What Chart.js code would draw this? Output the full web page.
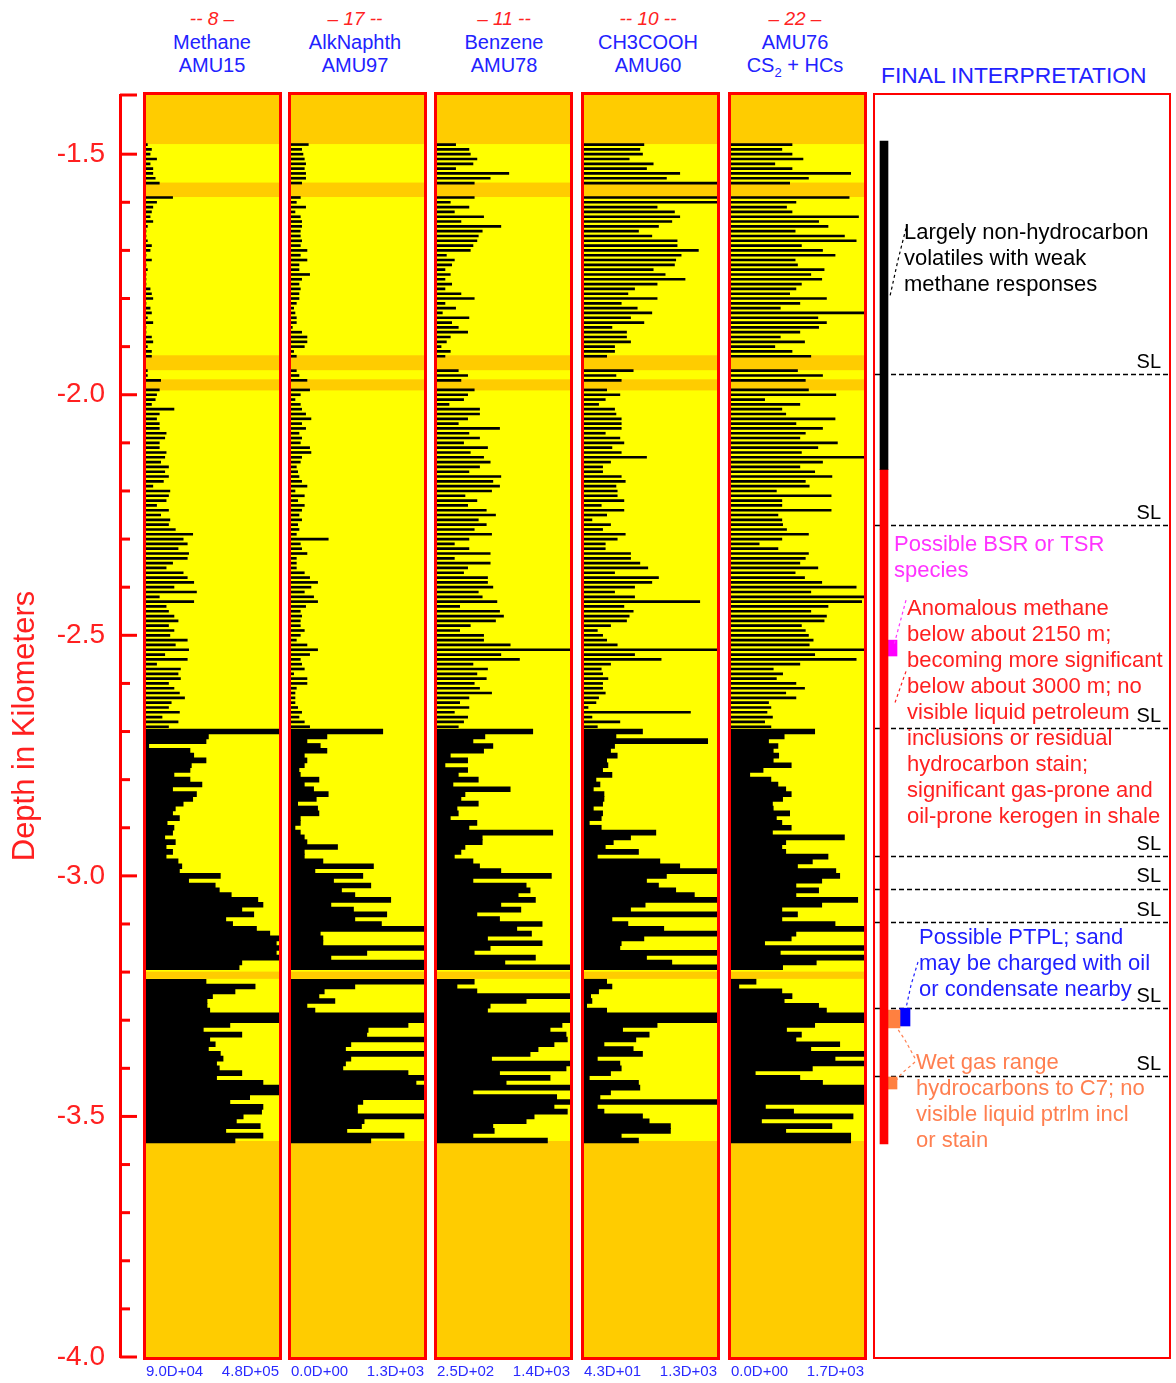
<!DOCTYPE html>
<html lang="en">
<head>
<meta charset="UTF-8">
<title>Fluid inclusion volatiles log</title>
<script src="https://cdn.jsdelivr.net/npm/chart.js"></script>
<style>
  body { margin: 0; background: #fff; width: 1176px; height: 1383px; position: relative; overflow: hidden; font-family: "Liberation Sans", Arial, sans-serif; }
  canvas { position: absolute; }
  .head { position: absolute; top: 7px; width: 170px; margin-left: -85px; text-align: center; font-size: 20px; line-height: 23.5px; color: #2222ff; }
  .head .num { color: #ff2222; font-style: italic; font-size: 19px; }
  #final { position: absolute; left: 881px; top: 62px; font-size: 22.8px; line-height: 26px; color: #2222ff; }
</style>
</head>
<body>
<div class="head" style="left:212px"><div class="num">-- 8 –</div>Methane<br>AMU15</div>
<div class="head" style="left:355px"><div class="num">– 17 --</div>AlkNaphth<br>AMU97</div>
<div class="head" style="left:504px"><div class="num">– 11 --</div>Benzene<br>AMU78</div>
<div class="head" style="left:648px"><div class="num">-- 10 --</div>CH3COOH<br>AMU60</div>
<div class="head" style="left:795px"><div class="num">– 22 –</div>AMU76<br>CS<sub style="font-size:13px">2</sub> + HCs</div>
<div id="final">FINAL INTERPRETATION</div>

<canvas id="axis" width="140" height="1342" style="left:0;top:55px"></canvas>
<canvas id="t1" width="153" height="1303" style="left:136px;top:85px"></canvas>
<canvas id="t2" width="153" height="1303" style="left:281px;top:85px"></canvas>
<canvas id="t3" width="153" height="1303" style="left:427px;top:85px"></canvas>
<canvas id="t4" width="153" height="1303" style="left:574px;top:85px"></canvas>
<canvas id="t5" width="153" height="1303" style="left:721px;top:85px"></canvas>
<canvas id="interp" width="298" height="1266" style="left:873px;top:93px"></canvas>

<script>
// samples every 10 m from 1.48 km down to 3.55 km (208 rows), null = no reading
const FIRST_DEPTH = 1.48, STEP = 0.01, SPLIT = 122;

// Methane AMU15, in thousands of counts
const methaneK = [
  94,106,102,121,102,110,110,117,129, null,null,
  168,121,110,106,102,110,94,90,90,94,106,102,90,106,90,94,90,90,90,102,106,110,90,102,106,94,110,90,90,106,110,94,106,106,
  null,null, 94,94,133, null,
  129,121,117,106,172,129,121,129,129,149,145,129,129,149,145,133,156,145,156,141,110,160,
  156,149,121,156,133,160,156,176,227,199, 211,184,215,211,168,149,199,211,230,172,
  238,129,230,149,156,172,184,156,172,160, 211,176,215,145,211,121,191,184,191,156,
  172,188,203,164,156,188,137,184,156,
  480,273,266,98,219,230,266,223,219,172, 219,254,168,238,227,199,176,168,188,152,
  172,168,145,176,149,168,149,184,195,188, 308,215,293,305,340,418,433,371,406,324,
  344,414,453,480,472,480,472,480,371,363, null,null,266,410,351,285,269,269,277,480,
  480,336,258,371,277,293,273,308,316,297, 305,371,297,433,480,480,394,336,433,429,
  375,355,425,324,433,351
];

// AlkNaphth AMU97
const alkNaphth = [
  169,104,117,130,143,130,143,143,104, null,null,
  91,52,143,39,91,104,104,91,91,104,91,156,91,156,78,78,182,104,78,91,78,78,52,26,39,52,52,13,104,156,156,130,26,52,
  null,null, 52,78,156, null,
  182,91,39,91,104,143,195,104,143,78,104,91,182,195,104,91,52,65,78,104,156,39,
  130,65,130,104,78,104,65,78,52,364, 91,104,156,52,52,52,130,182,260,195,
  130,221,260,143,91,104,91,91,130,91, 52,156,260,182,91,104,130,26,156,156,
  52,39,39,39,65,104,78,130,182,
  897,351,156,286,351,130,156,130,78,91, 273,130,221,364,247,65,260,273,91,91,
  39,91,130,156,455,130,130,312,806,234, 702,416,780,494,624,975,390,611,936,624,
  884,1300,286,312,312,1300,741,390,1300,1300, null,null,1300,624,325,273,429,156,234,1300,
  1300,1144,754,741,1300,585,533,1300,585,533, 507,1144,1300,1222,1300,1300,1300,702,650,650,
  1300,715,689,546,1105,780
];

// Benzene AMU78
const benzene = [
  411,526,538,595,561,411,871,710,572, null,null,
  572,365,526,400,653,457,802,641,607,595,561,538,331,400,377,319,365,319,377,319,457,572,319,411,296,526,377,434,515,365,331,285,365,319,
  null,null, 434,515,457, null,
  572,515,480,354,618,618,515,434,791,526,618,480,687,538,653,710,618,526,802,733,791,722,
  492,595,515,676,756,607,676,572,722,526, 400,526,710,400,710,515,480,687,687,733,
  607,641,768,446,791,825,756,538,446,653, 653,883,1400,802,963,561,687,595,676,572,
  618,722,526,446,526,400,515,480,434,
  1078,664,561,733,653,365,515,319,515,434, 607,388,883,492,457,607,423,434,365,595,
  526,1251,641,641,492,457,400,561,618,802, 1239,561,1021,1055,952,1101,802,975,595,791,
  1159,940,1067,687,1159,710,572,1101,837,1400, null,null,572,423,595,1400,1021,710,687,1400,
  1400,1331,1228,1366,1377,1262,1124,1055,722,1400, 1366,791,1228,848,1400,561,1285,1400,1262,1377,
  1090,1021,733,745,561,1205
];

// CH3COOH AMU60
const aceticAcid = [
  609,571,596,470,697,634,948,822,1300, null,null,
  1300,1300,734,898,948,873,747,558,684,923,923,1124,961,910,898,697,810,998,734,521,458,734,395,546,684,483,609,307,445,445,483,332,332,257,
  null,null, 508,345,395, null,
  257,382,244,181,332,345,395,395,395,244,382,420,307,395,634,294,219,219,395,433,345,357,
  357,420,206,420,257,118,294,219,433,357, 244,244,483,483,571,646,332,747,684,521,
  332,521,1137,420,508,470,445,294,169,219, 257,357,1300,521,772,294,206,219,269,219,
  219,244,181,156,81,1049,118,382,169,
  596,345,1212,332,294,357,257,269,219,307, 156,194,131,232,232,219,131,219,206,93,
  206,722,483,320,244,558,169,760,948,1300, 822,634,747,910,1086,1300,621,483,1300,307,
  458,797,1300,609,395,382,1300,634,873,1300, null,null,257,307,181,106,118,68,257,1300,
  1300,734,408,659,533,232,508,596,169,382, 395,294,93,558,571,294,194,1300,169,232,
  596,659,860,860,395,558
];

// AMU76, CS2 + HCs
const amu76 = [
  780,650,780,920,560,780,1530,990,750, null,null,
  1510,830,710,780,1630,1120,1240,820,1450,1600,900,1170,1330,820,850,1190,1020,1160,900,830,750,1220,880,630,1700,1110,1220,1120,880,630,940,560,780,1020,
  null,null, 850,1170,950, null,
  990,1340,430,880,650,700,1330,830,1170,950,880,1360,1110,900,1700,1170,880,1070,1290,950,1000,580,
  1280,650,650,1280,600,650,660,710,990,650, 360,600,990,950,880,1110,820,940,1160,1600,
  1020,1700,1670,1240,1020,1220,1190,900,950,990, 1050,1000,1700,1070,1600,880,540,660,580,830,
  940,700,830,480,510,460,530,430,510,
  1070,680,480,600,540,610,540,770,410,240, 510,600,700,770,660,530,540,750,580,650,
  770,530,1450,700,650,700,1240,1040,850,1340, 1390,1160,830,1120,830,1620,1160,650,850,650,
  1330,1700,830,770,430,1700,630,1700,1090,660, null,null,320,100,650,780,680,1120,1220,1700,
  1700,1070,710,900,830,1390,1020,1700,1330,1700, 1040,310,880,1170,1700,1700,1700,1700,440,800,
  1560,390,1290,700,1530,1530
];

const trackIds    = ['t1', 't2', 't3', 't4', 't5'];
const trackValues = [methaneK, alkNaphth, benzene, aceticAcid, amu76];
const trackMin    = [90, 0, 250, 43, 0];
const trackMax    = [480, 1300, 1400, 1300, 1700];
const trackUnit   = [1000, 1, 1, 1, 1];

// sampled interval (yellow) and the barren sub-intervals (orange)
const dataTop = -1.479, dataBottom = -3.551;
const gapBands = [[-1.559, -1.589], [-1.918, -1.949], [-1.968, -1.991], [-3.199, -3.214]];

// interpretation column: floating bars
const interpX    = [9, 9, 17.5, 19, 30, 17.5];
const interpTop  = [-1.473, -2.155, -2.510, -3.279, -3.275, -3.418];
const interpBase = [-2.155, -3.557, -2.543, -3.316, -3.312, -3.443];
const interpWidth = [8, 8, 9, 12, 10, 9];
const interpColor = ['#000000', '#ff0000', '#ff00ff', '#ff8040', '#0000ff', '#ff8040'];

const slDepths = [-1.957, -2.271, -2.693, -2.959, -3.027, -3.096, -3.275, -3.416];

const noteText = [
  ['Largely non-hydrocarbon', 'volatiles with weak', 'methane responses'],
  ['Possible BSR or TSR', 'species'],
  ['Anomalous methane', 'below about 2150 m;', 'becoming more significant', 'below about 3000 m; no',
   'visible liquid petroleum', 'inclusions or residual', 'hydrocarbon stain;', 'significant gas-prone and',
   'oil-prone kerogen in shale'],
  ['Possible PTPL; sand', 'may be charged with oil', 'or condensate nearby'],
  ['Wet gas range', 'hydrocarbons to C7; no', 'visible liquid ptrlm incl', 'or stain']
];
const noteDepth = [-1.664, -2.3126, -2.4456, -3.129, -3.389];
const noteX     = [29, 19, 32, 44, 41];
const noteColor = ['#000000', '#ff33ff', '#ff2020', '#2020ff', '#ff7f50'];
const leaders = [
  { color: '#000000', pts: [[31, -1.654], [23, -1.72], [15, -1.795]] },
  { color: '#ff33ff', pts: [[31, -2.427], [23, -2.489], [19, -2.52]] },
  { color: '#ff2020', pts: [[31, -2.575], [25, -2.61], [20, -2.64]] },
  { color: '#2020ff', pts: [[43, -3.179], [36, -3.227], [31, -3.275]] },
  { color: '#ff7f50', pts: [[40, -3.379], [30, -3.341], [22, -3.316]] },
  { color: '#ff7f50', pts: [[40, -3.387], [27, -3.410], [20, -3.428]] }
];

const FONT = '"Liberation Sans", Arial, sans-serif';
const RED = '#ff0000', ORANGE = '#ffcc00', YELLOW = '#ffff00';
const DEPTH_MIN = -4.0, DEPTH_MAX = -1.377;

trackValues.forEach((v, k) => {
  if (v.length !== 208) throw new Error(trackIds[k] + ' has ' + v.length + ' rows');
});

const depths = [];
for (let i = 0; i < 208; i++) depths.push(-Math.round((FIRST_DEPTH + i * STEP) * 1000) / 1000);

function dNotation(v) {
  if (v === 0) return '0.0D+00';
  let e = Math.floor(Math.log10(Math.abs(v)));
  let m = v / Math.pow(10, e);
  if (Math.round(m * 10) >= 100) { m /= 10; e += 1; }
  return m.toFixed(1) + 'D' + (e < 0 ? '-' : '+') + String(Math.abs(e)).padStart(2, '0');
}

const isHalf = v => Math.abs(v * 2 - Math.round(v * 2)) < 1e-6;

const logBackground = {
  id: 'logBackground',
  beforeDatasetsDraw(chart) {
    const { ctx, chartArea: a, scales: { y } } = chart;
    const band = (d1, d2, color) => {
      const p1 = y.getPixelForValue(d1), p2 = y.getPixelForValue(d2);
      ctx.fillStyle = color;
      ctx.fillRect(a.left, p1, a.width, p2 - p1);
    };
    ctx.save();
    ctx.fillStyle = ORANGE;
    ctx.fillRect(a.left, a.top, a.width, a.height);
    band(dataTop, dataBottom, YELLOW);
    gapBands.forEach(b => band(b[0], b[1], ORANGE));
    ctx.restore();
  }
};

const panelFrame = {
  id: 'panelFrame',
  afterDraw(chart, args, opts) {
    const { ctx, chartArea: a } = chart;
    const w = opts.width || 3;
    ctx.save();
    ctx.strokeStyle = RED;
    ctx.lineWidth = w;
    ctx.strokeRect(a.left - w / 2, a.top - w / 2, a.width + w, a.height + w);
    ctx.restore();
  }
};

// tick marks stick out to the right of the depth axis line
const depthTickMarks = {
  id: 'depthTickMarks',
  afterDraw(chart) {
    const { ctx, scales: { y } } = chart;
    ctx.save();
    ctx.strokeStyle = RED;
    ctx.lineWidth = 3;
    y.ticks.forEach(t => {
      const p = y.getPixelForValue(t.value);
      const len = (isHalf(t.value) || t.value === y.max) ? 17 : 10;
      ctx.beginPath();
      ctx.moveTo(y.right, p);
      ctx.lineTo(y.right + len, p);
      ctx.stroke();
    });
    ctx.restore();
  }
};

new Chart(document.getElementById('axis'), {
  type: 'scatter',
  data: { datasets: [] },
  options: {
    responsive: false, animation: false, devicePixelRatio: 1,
    layout: { padding: { top: 40, bottom: 40, left: 0, right: 0 } },
    plugins: { legend: { display: false }, tooltip: { enabled: false } },
    scales: {
      x: { display: false },
      y: {
        type: 'linear', position: 'left', min: DEPTH_MIN, max: DEPTH_MAX,
        afterFit: s => { s.width = 120; },
        grid: { display: true, drawOnChartArea: false, drawTicks: false, color: 'rgba(0,0,0,0)' },
        border: { display: true, color: RED, width: 3 },
        ticks: {
          stepSize: 0.1, maxTicksLimit: 100, autoSkip: false, padding: 15,
          color: '#ff2020', font: { size: 28, family: FONT },
          callback: v => isHalf(v) ? Number(v).toFixed(1) : ''
        },
        title: { display: true, text: 'Depth in Kilometers', color: '#ff2020', font: { size: 31, family: FONT }, padding: { top: 7, bottom: 0 } }
      }
    }
  },
  plugins: [depthTickMarks]
});

trackIds.forEach((id, k) => {
  const upper = [], lower = [];
  trackValues[k].forEach((v, i) => (i < SPLIT ? upper : lower).push({ x: v, y: depths[i] }));
  const min = trackMin[k], max = trackMax[k], unit = trackUnit[k];
  new Chart(document.getElementById(id), {
    type: 'bar',
    data: {
      datasets: [
        { data: upper, backgroundColor: '#000000', barThickness: 2, grouped: false },
        { data: lower, backgroundColor: '#000000', barThickness: 5, grouped: false }
      ]
    },
    options: {
      indexAxis: 'y', responsive: false, animation: false, devicePixelRatio: 1,
      layout: { padding: { left: 10, right: 10, top: 10, bottom: 0 } },
      plugins: { legend: { display: false }, tooltip: { enabled: false }, panelFrame: { width: 3 } },
      scales: {
        y: { type: 'linear', min: DEPTH_MIN, max: DEPTH_MAX, offset: false, display: false },
        x: {
          type: 'linear', position: 'bottom', min: min, max: max,
          grid: { display: false, drawTicks: false }, border: { display: false },
          afterBuildTicks: s => { s.ticks = [{ value: min }, { value: max }]; },
          afterFit: s => { s.height = 31; },
          ticks: {
            align: 'inner', autoSkip: false, maxRotation: 0, minRotation: 0, padding: 6,
            color: '#2a2aff', font: { size: 15, family: FONT },
            callback: v => dNotation(v * unit)
          }
        }
      }
    },
    plugins: [logBackground, panelFrame]
  });
});

const interpNotes = {
  id: 'interpNotes',
  beforeDatasetsDraw(chart) {
    const { ctx, chartArea: a, scales: { y } } = chart;
    ctx.save();
    ctx.strokeStyle = '#000000';
    ctx.lineWidth = 1.3;
    ctx.setLineDash([5, 3]);
    slDepths.forEach(d => {
      const p = Math.round(y.getPixelForValue(d)) + 0.5;
      ctx.beginPath(); ctx.moveTo(a.left, p); ctx.lineTo(a.right, p); ctx.stroke();
    });
    ctx.setLineDash([]);
    ctx.fillStyle = '#000000';
    ctx.font = '20px ' + FONT;
    ctx.textAlign = 'right';
    ctx.textBaseline = 'bottom';
    slDepths.forEach(d => ctx.fillText('SL', a.right - 8, y.getPixelForValue(d) - 2));
    ctx.restore();
  },
  afterDatasetsDraw(chart) {
    const { ctx, chartArea: a, scales: { y } } = chart;
    ctx.save();
    ctx.lineWidth = 1.2;
    ctx.setLineDash([3, 3]);
    leaders.forEach(l => {
      ctx.strokeStyle = l.color;
      ctx.beginPath();
      l.pts.forEach((p, j) => {
        const px = a.left + p[0], py = y.getPixelForValue(p[1]);
        if (j === 0) ctx.moveTo(px, py); else ctx.lineTo(px, py);
      });
      ctx.stroke();
    });
    ctx.setLineDash([]);
    ctx.font = '22px ' + FONT;
    ctx.textAlign = 'left';
    ctx.textBaseline = 'middle';
    noteText.forEach((lines, k) => {
      ctx.fillStyle = noteColor[k];
      const top = y.getPixelForValue(noteDepth[k]);
      lines.forEach((s, j) => ctx.fillText(s, a.left + noteX[k], top + j * 26));
    });
    ctx.restore();
  }
};

new Chart(document.getElementById('interp'), {
  type: 'bar',
  data: {
    datasets: interpX.map((x, k) => ({
      data: [{ x: x, y: [interpTop[k], interpBase[k]] }],
      backgroundColor: interpColor[k],
      barThickness: interpWidth[k],
      grouped: false
    }))
  },
  options: {
    responsive: false, animation: false, devicePixelRatio: 1,
    layout: { padding: 2 },
    plugins: { legend: { display: false }, tooltip: { enabled: false }, panelFrame: { width: 2 } },
    scales: {
      x: { type: 'linear', min: 0, max: 294, offset: false, display: false },
      y: { type: 'linear', min: DEPTH_MIN, max: DEPTH_MAX, display: false }
    }
  },
  plugins: [interpNotes, panelFrame]
});
</script>
</body>
</html>
